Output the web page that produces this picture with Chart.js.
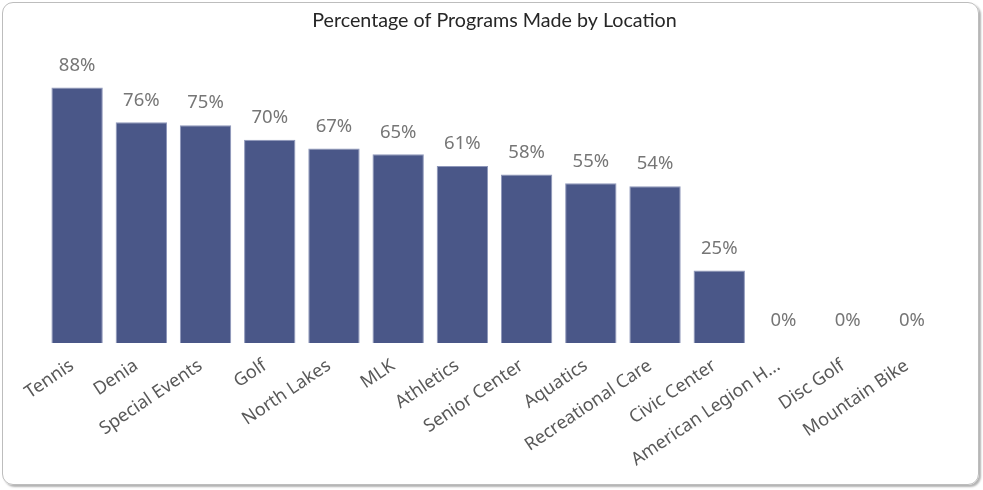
<!DOCTYPE html>
<html>
<head>
<meta charset="utf-8">
<script src="https://cdn.jsdelivr.net/npm/chart.js@4.4.1/dist/chart.umd.min.js"></script>
<style>
  html, body { margin: 0; padding: 0; background: #ffffff; }
  #frame {
    position: absolute; left: 2px; top: 2px; width: 975px; height: 481px;
    border: 1.5px solid #bdbdbd; border-radius: 11px;
    box-shadow: 2px 2px 2px rgba(0, 0, 0, 0.3);
  }
  #wrap { position: absolute; left: 0; top: 0; width: 983px; height: 490px; }
</style>
</head>
<body>
<div id="frame"></div>
<div id="wrap"><canvas id="chart"></canvas></div>
<script>
// Datos del gráfico
const locations = ['Tennis', 'Denia', 'Special Events', 'Golf', 'North Lakes', 'MLK', 'Athletics',
  'Senior Center', 'Aquatics', 'Recreational Care', 'Civic Center', 'American Legion H...',
  'Disc Golf', 'Mountain Bike'];
const pctMade = [88, 76, 75, 70, 67, 65, 61, 58, 55, 54, 25, 0, 0, 0];

const barColor = '#4a5788';
const barEdge = '#8e97ba';
const labelGray = '#767676';
const axisGray = '#595959';

// Etiquetas de valor encima de cada barra
const valueLabels = {
  id: 'valueLabels',
  afterDatasetsDraw(chart) {
    const { ctx } = chart;
    const meta = chart.getDatasetMeta(0);
    ctx.save();
    ctx.font = '18.5px "Noto Sans", sans-serif';
    ctx.fillStyle = labelGray;
    ctx.textAlign = 'center';
    ctx.textBaseline = 'middle';
    meta.data.forEach((bar, i) => {
      ctx.fillText(pctMade[i] + '%', bar.x, bar.y - 22);
    });
    ctx.restore();
  }
};

new Chart(document.getElementById('chart'), {
  type: 'bar',
  data: {
    labels: locations,
    datasets: [{
      data: pctMade,
      backgroundColor: barColor,
      borderColor: barEdge,
      borderWidth: 1,
      categoryPercentage: 1,
      barPercentage: 0.8
    }]
  },
  options: {
    responsive: true,
    maintainAspectRatio: false,
    animation: false,
    layout: { padding: { left: 45, right: 39, top: 0, bottom: 0 } },
    plugins: {
      legend: { display: false },
      tooltip: { enabled: false },
      title: {
        display: true,
        text: 'Percentage of Programs Made by Location',
        color: '#262626',
        font: { family: 'Lato', size: 19.7, weight: 'normal' },
        padding: { top: 9, bottom: 20 }
      }
    },
    scales: {
      x: {
        grid: { display: false },
        border: { display: false },
        ticks: {
          color: axisGray,
          font: { family: '"Noto Sans"', size: 18 },
          minRotation: 34,
          maxRotation: 34,
          autoSkip: false,
          padding: 4,
          labelOffset: -5
        },
        afterFit(scale) { scale.height = 147; }
      },
      y: {
        display: false,
        min: 0,
        max: 100
      }
    }
  },
  plugins: [valueLabels]
});
</script>
</body>
</html>
